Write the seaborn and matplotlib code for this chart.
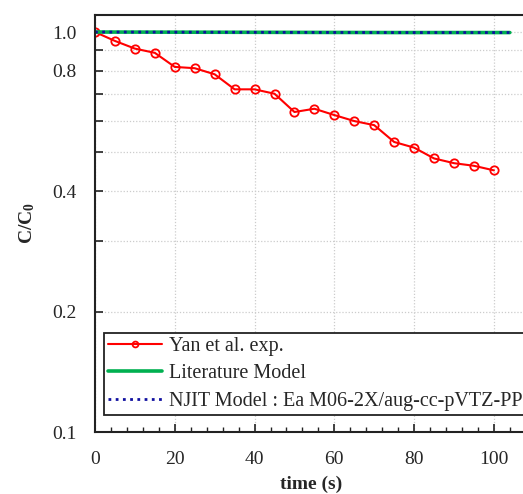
import matplotlib
matplotlib.use("Agg")
import matplotlib.pyplot as plt
from matplotlib.ticker import FixedLocator, FixedFormatter, MultipleLocator
import pandas as pd
import seaborn as sns

exp_time = [0, 5, 10, 15, 20, 25, 30, 35, 40, 45, 50,
            55, 60, 65, 70, 75, 80, 85, 90, 95, 100]
exp_c = [1.0, 0.950, 0.909, 0.887, 0.818, 0.812, 0.784, 0.719, 0.719, 0.701, 0.631,
         0.643, 0.620, 0.599, 0.585, 0.531, 0.514, 0.483, 0.470, 0.463, 0.451]

# both models stay at ~1
model_time = [0, 25, 50, 75, 104]
lit_c = [1.0, 0.999, 0.998, 0.997, 0.997]
njit_c = [1.0, 0.999, 0.998, 0.997, 0.997]

y_ticks = [0.1, 0.2, 0.3, 0.4, 0.5, 0.6, 0.7, 0.8, 0.9, 1.0]
y_labels = ["0.1", "0.2", "", "0.4", "", "", "", "0.8", "", "1.0"]
x_ticks = [0, 20, 40, 60, 80, 100]

sns.set_style("white")
plt.rcParams["font.family"] = ["Liberation Serif", "DejaVu Serif"]
plt.rcParams["mathtext.fontset"] = "custom"
plt.rcParams["mathtext.rm"] = "Liberation Serif"
plt.rcParams["mathtext.bf"] = "Liberation Serif:bold"

exp_df = pd.DataFrame({"time": exp_time, "c": exp_c})
model_df = pd.DataFrame({"time": model_time, "lit": lit_c, "njit": njit_c})

fig = plt.figure(figsize=(5.23, 4.94), dpi=100)
ax = fig.add_axes([95 / 523, 62 / 494, 432 / 523, 417 / 494])

sns.lineplot(data=exp_df, x="time", y="c", ax=ax, color="#ff0000", lw=1.5,
             marker="o", markersize=6, markerfacecolor="none",
             markeredgecolor="#ff0000", markeredgewidth=1.3,
             label="Yan et al. exp.")
sns.lineplot(data=model_df, x="time", y="lit", ax=ax, color="#00b050", lw=2.6,
             label="Literature Model")
sns.lineplot(data=model_df, x="time", y="njit", ax=ax, color="#1010a0", lw=2.0,
             linestyle=(0, (1, 1.6)),
             label="NJIT Model : Ea M06-2X/aug-cc-pVTZ-PP")

ax.set_yscale("log")
ax.set_ylim(0.1, 1.103)
ax.set_xlim(0, 108.3)
ax.yaxis.set_major_locator(FixedLocator(y_ticks))
ax.yaxis.set_major_formatter(FixedFormatter(y_labels))
ax.yaxis.set_minor_locator(FixedLocator([]))
ax.xaxis.set_major_locator(FixedLocator(x_ticks))
ax.xaxis.set_minor_locator(MultipleLocator(4))

ax.grid(True, which="major", color="#cccccc", linestyle=(0, (1, 1.5)), lw=0.9)
ax.set_axisbelow(True)

ax.tick_params(axis="both", which="major", direction="in", length=6, width=1.2,
               labelsize=14, color="#222222")
ax.tick_params(axis="x", which="minor", direction="in", length=3.5, width=1.0,
               bottom=True, color="#222222")
ax.tick_params(axis="x", which="major", bottom=True, pad=14)
ax.tick_params(axis="y", which="major", left=True, pad=13)

for side in ["left", "top", "bottom"]:
    ax.spines[side].set_color("#222222")
    ax.spines[side].set_linewidth(1.5)
ax.spines["right"].set_visible(False)

ax.set_xlabel("time (s)", fontsize=14, fontweight="bold", labelpad=5)
ax.set_ylabel(r"$\mathbf{C/C_0}$", fontsize=14, labelpad=11)

leg = ax.legend(loc="lower left", bbox_to_anchor=(8.5 / 432, 17 / 417),
                borderaxespad=0, fontsize=14.5, frameon=True, fancybox=False,
                edgecolor="#222222", framealpha=1, handlelength=2.7,
                handletextpad=0.36, labelspacing=0.42, borderpad=0.2,
                markerscale=0.7)
leg.get_frame().set_linewidth(1.3)

fig.savefig("out.png", dpi=100)
